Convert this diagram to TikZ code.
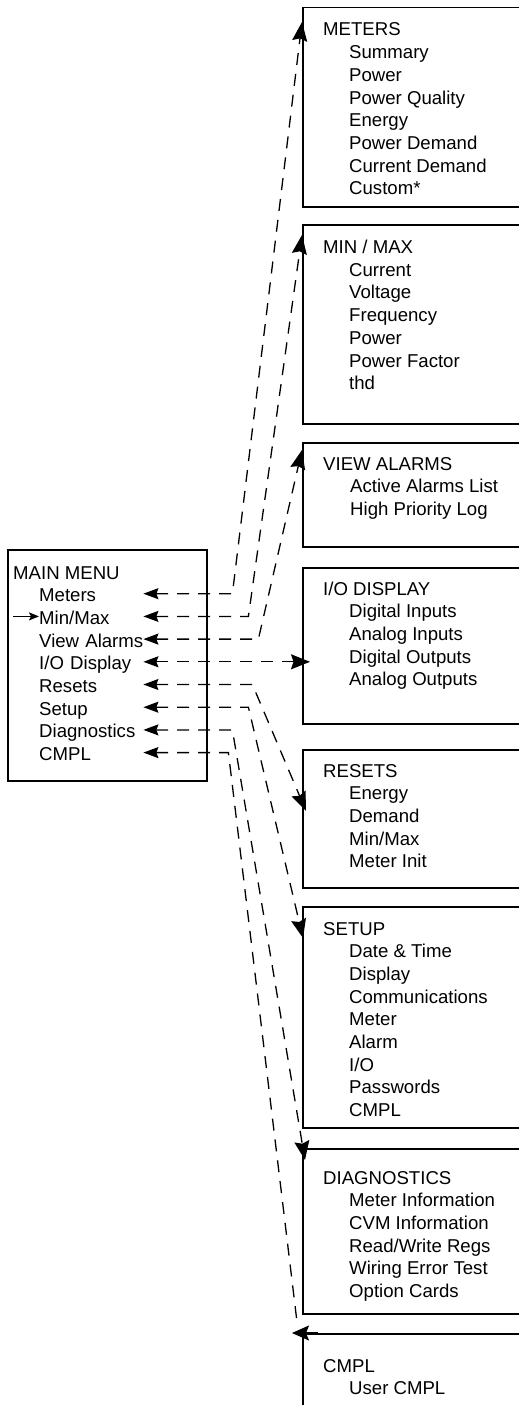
\documentclass[tikz,border=0pt]{standalone}
\usepackage{fontspec}
\setmainfont{Liberation Sans}
\usetikzlibrary{positioning, arrows.meta, calc}

\begin{document}
\begin{tikzpicture}[
        x=1pt, y=-1pt,
        menubox/.style={rectangle, draw, line width=1.5pt, anchor=north west, minimum width=199pt, minimum height=231pt, inner sep=0pt},
        panel/.style={rectangle, draw, line width=1.5pt, anchor=north west, minimum width=300pt, inner sep=0pt},
        paneltext/.style={anchor=base west, inner sep=0pt, font=\fontsize{18.6}{22.7}\selectfont},
        item/.style={anchor=base west, inner sep=0pt, text width=104pt, text height=16pt, text depth=0pt, align=left, font=\fontsize{18.6}{22.7}\selectfont},
        link/.style={dash pattern=on 12pt off 9pt, line width=1.3pt, {Stealth[length=15pt, width=11pt, inset=2pt]}-{Stealth[length=19pt, width=15pt, inset=2.5pt]}},
        pointer/.style={-{Stealth[length=10pt, width=8pt, inset=2pt]}, line width=1.6pt}
    ]
        \clip (0,0) rectangle (519,1405);

        % Main menu
        \node (menu) [menubox] at (7,549) {};
        \node (mTitle) [paneltext] at (13,579) {MAIN MENU};
        \node (mMeters) [item] at (39,601.7) {Meters};
        \node (mMinMax) [item] at (39,624.4) {Min/Max};
        \node (mAlarms) [item] at (39,647.1) {View~Alarms};
        \node (mIO) [item] at (39,669.8) {I/O Display};
        \node (mResets) [item] at (39,692.5) {Resets};
        \node (mSetup) [item] at (39,715.2) {Setup};
        \node (mDiag) [item] at (39,737.9) {Diagnostics};
        \node (mCmpl) [item] at (39,760.6) {CMPL};
        \draw [pointer] ($(mMinMax.west)+(-26,0)$) -- (mMinMax.west);

        % Panels
        \node (meters) [panel, minimum height=199pt] at (302,7) {};
        \node (metersT) [paneltext] at ($(meters.north west)+(21,29)$) {\begin{tabular}[t]{@{}p{26pt}@{}l@{}}\multicolumn{2}{@{}l@{}}{METERS}\\
            & Summary\\ & Power\\ & Power Quality\\ & Energy\\ & Power Demand\\ & Current Demand\\ & Custom*\end{tabular}};
        \node (minmax) [panel, minimum height=199pt] at (302,224) {};
        \node (minmaxT) [paneltext] at ($(minmax.north west)+(21,29.5)$) {\begin{tabular}[t]{@{}p{26pt}@{}l@{}}\multicolumn{2}{@{}l@{}}{MIN / MAX}\\
            & Current\\ & Voltage\\ & Frequency\\ & Power\\ & Power Factor\\ & thd\end{tabular}};
        \node (alarms) [panel, minimum height=104pt] at (302,442) {};
        \node (alarmsT) [paneltext] at ($(alarms.north west)+(21,28)$) {\begin{tabular}[t]{@{}p{27pt}@{}l@{}}\multicolumn{2}{@{}l@{}}{VIEW ALARMS}\\
            & Active Alarms List\\ & High Priority Log\end{tabular}};
        \node (iodisp) [panel, minimum height=156pt] at (302,567) {};
        \node (iodispT) [paneltext] at ($(iodisp.north west)+(21,28)$) {\begin{tabular}[t]{@{}p{26pt}@{}l@{}}\multicolumn{2}{@{}l@{}}{I/O DISPLAY}\\
            & Digital Inputs\\ & Analog Inputs\\ & Digital Outputs\\ & Analog Outputs\end{tabular}};
        \node (resets) [panel, minimum height=138pt] at (302,749) {};
        \node (resetsT) [paneltext] at ($(resets.north west)+(21,28)$) {\begin{tabular}[t]{@{}p{26pt}@{}l@{}}\multicolumn{2}{@{}l@{}}{RESETS}\\
            & Energy\\ & Demand\\ & Min/Max\\ & Meter Init\end{tabular}};
        \node (setup) [panel, minimum height=221pt] at (302,906) {};
        \node (setupT) [paneltext] at ($(setup.north west)+(21,29)$) {\begin{tabular}[t]{@{}p{26pt}@{}l@{}}\multicolumn{2}{@{}l@{}}{SETUP}\\
            & Date \& Time\\ & Display\\ & Communications\\ & Meter\\ & Alarm\\ & I/O\\ & Passwords\\ & CMPL\end{tabular}};
        \node (diag) [panel, minimum height=165pt] at (302,1148) {};
        \node (diagT) [paneltext] at ($(diag.north west)+(21,36)$) {\begin{tabular}[t]{@{}p{26pt}@{}l@{}}\multicolumn{2}{@{}l@{}}{DIAGNOSTICS}\\
            & Meter Information\\ & CVM Information\\ & Read/Write Regs\\ & Wiring Error Test\\ & Option Cards\end{tabular}};
        \node (cmpl) [panel, minimum height=200pt] at (302,1333) {};
        \node (cmplT) [paneltext] at ($(cmpl.north west)+(21,39)$) {\begin{tabular}[t]{@{}p{26pt}@{}l@{}}\multicolumn{2}{@{}l@{}}{CMPL}\\
            & User CMPL\end{tabular}};
        \coordinate (cmplEnd) at ($(cmpl.north west)+(-5,-11)$);

        % Arrows
        \draw [link] (mMeters.east) -- ++(89,0) -- ($(meters.north west)+(0,15)$);
        \draw [link] (mMinMax.east) -- ++(105,0) -- ($(minmax.north west)+(0,11)$);
        \draw [link] (mAlarms.east) -- ++(115,0) -- ($(alarms.north west)+(0,8)$);
        \draw [link] (mIO.east) -- ($(mIO.east -| iodisp.west)+(8,0)$);
        \draw [link] (mResets.east) -- ++(109,0) -- ($(resets.north west)+(4,62)$);
        \draw [link] (mSetup.east) -- ++(105,0) -- ($(setup.north west)+(1,32)$);
        \draw [link] (mDiag.east) -- ++(89,0) -- ($(diag.north west)+(3,12)$);
        \draw [link, {Stealth[length=15pt, width=11pt, inset=2pt]}-] (mCmpl.east) -- ++(85,0) -- (cmplEnd);
        \draw [line width=1.5pt, -{Stealth[length=17pt, width=15pt, inset=3pt]}] ($(cmpl.north west)+(16,0)$) -- ($(cmpl.north west)+(-10,0)$);
    \end{tikzpicture}
\end{document}
